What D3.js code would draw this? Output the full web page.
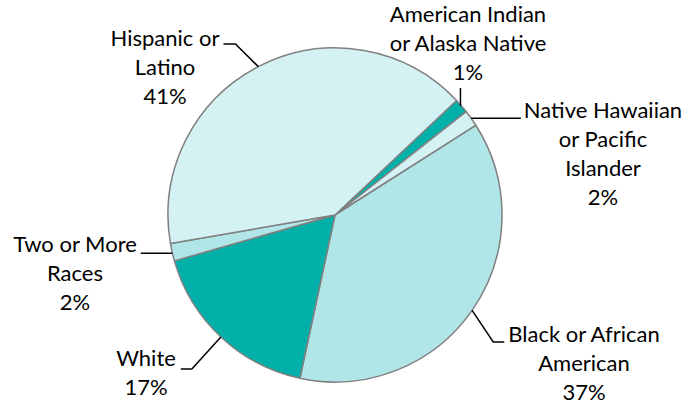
<!DOCTYPE html>
<html>
<head>
<meta charset="utf-8">
<script src="https://cdn.jsdelivr.net/npm/d3@7"></script>
<style>
  html, body { margin: 0; padding: 0; background: #fff; }
  svg { display: block; }
  text { font-family: Lato, "Open Sans", sans-serif; fill: #000; }
</style>
</head>
<body>
<svg id="chart" width="685" height="407"></svg>
<script>
// ---- data ----
const categories = [
  "American Indian or Alaska Native",
  "Native Hawaiian or Pacific Islander",
  "Black or African American",
  "White",
  "Two or More Races",
  "Hispanic or Latino"
];
const values = [1.4, 1.6, 37.4, 17.2, 1.7, 40.7];
const labelLines = [
  ["American Indian", "or Alaska Native"],
  ["Native Hawaiian", "or Pacific", "Islander"],
  ["Black or African", "American"],
  ["White"],
  ["Two or More", "Races"],
  ["Hispanic or", "Latino"]
];
const colors = ["#00B0A9", "#D4F1F4", "#B0E6E8", "#00B0A9", "#B0E6E8", "#D4F1F4"];

// ---- layout ----
const W = 685, H = 407;
const cx = 335, cy = 215, R = 167;
const svg = d3.select("#chart");
const g = svg.append("g").attr("transform", `translate(${cx},${cy})`);

const start = 46.7 * Math.PI / 180;
const pie = d3.pie().sort(null).value(d => d.v)
  .startAngle(start).endAngle(start + 2 * Math.PI);
const data = categories.map((c, i) => ({ c, v: values[i], i }));
const arcs = pie(data);
const arc = d3.arc().innerRadius(0).outerRadius(R);

g.selectAll("path.slice").data(arcs).enter().append("path")
  .attr("class", "slice")
  .attr("d", arc)
  .attr("fill", d => colors[d.data.i])
  .attr("stroke", "#808080")
  .attr("stroke-width", 1.5)
  .attr("stroke-linejoin", "round");

// label placement: [center x, first baseline y] and leader-line shape
const labelPos = [
  { x: 468, y: 22, leader: "up" },
  { x: 603, y: 118, leader: "right" },
  { x: 584, y: 342, leader: "right-bend" },
  { x: 146, y: 366, leader: "left-bend" },
  { x: 75, y: 252, leader: "left" },
  { x: 165, y: 46, leader: "left-bend-up" }
];
const lineH = 29;
const fontSize = 22;

const fmt = v => Math.round(v) + "%";

arcs.forEach((a, k) => {
  const i = a.data.i;
  const p = labelPos[i];
  const lines = labelLines[i].concat([fmt(a.data.v)]);
  const t = svg.append("text")
    .attr("text-anchor", "middle")
    .attr("font-size", fontSize);
  lines.forEach((ln, j) => {
    t.append("tspan").attr("x", p.x).attr("y", p.y + j * lineH).text(ln);
  });
  // edge point of slice middle
  const mid = (a.startAngle + a.endAngle) / 2;
  const ex = cx + R * Math.sin(mid), ey = cy - R * Math.cos(mid);
  let pts;
  const firstW = t.select("tspan").node().getComputedTextLength();
  if (p.leader === "up") {
    pts = [[ex - 1, ey], [ex - 1, p.y + 2 * lineH + 8]];
  } else if (p.leader === "right") {
    pts = [[ex, ey], [p.x - firstW / 2 - 3, ey]];
  } else if (p.leader === "left") {
    pts = [[ex, ey + 1], [p.x + firstW / 2 + 4, ey + 1]];
  } else if (p.leader === "right-bend") {
    const hy = p.y;
    const lx = p.x - firstW / 2 - 4;
    pts = [[ex, ey], [lx - 11, hy], [lx, hy]];
  } else if (p.leader === "left-bend") {
    const hy = p.y + 3;
    const rx = p.x + firstW / 2 + 5;
    pts = [[ex, ey], [rx + 11, hy], [rx, hy]];
  } else {
    const hy = p.y - 2;
    const rx = p.x + firstW / 2 + 4;
    pts = [[rx, hy], [rx + 12, hy], [ex - 2, ey + 1]];
  }
  svg.append("path")
    .attr("d", d3.line()(pts))
    .attr("fill", "none")
    .attr("stroke", "#000")
    .attr("stroke-width", 1.5);
});
</script>
</body>
</html>
